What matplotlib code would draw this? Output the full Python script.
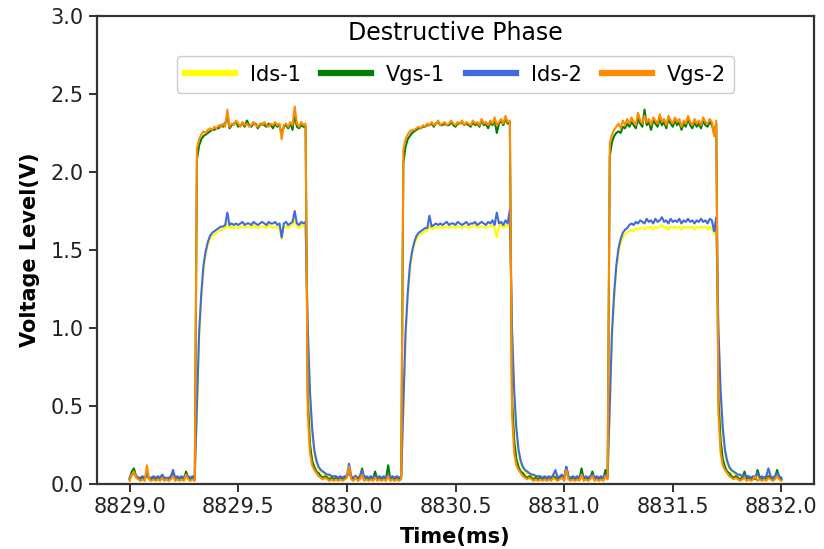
import numpy as np
import matplotlib
matplotlib.use("Agg")
import matplotlib.pyplot as plt
from matplotlib.lines import Line2D
from matplotlib.ticker import MultipleLocator, FormatStrFormatter

# ---- data (0.01 ms sampling from 8829.00 to 8832.00) ----
time_ms = np.round(np.linspace(8829.0, 8832.0, 301), 2)

ids_1 = [
    # baseline 8829.00-8829.30
    0.03,0.05,0.06,0.04,0.03,0.03,0.04,0.03,0.05,0.03,0.03,0.04,0.03,0.04,0.03,0.05,
    0.03,0.03,0.03,0.04,0.07,0.03,0.04,0.03,0.04,0.03,0.05,0.04,0.03,0.04,0.03,
    # pulse 1
    0.45,0.92,1.18,1.37,1.47,1.53,1.57,1.59,1.60,1.61, 1.62,1.63,1.63,1.64,1.68,1.64,1.65,1.64,1.65,1.64,
    1.65,1.65,1.64,1.65,1.65,1.64,1.66,1.65,1.64,1.65, 1.65,1.65,1.64,1.66,1.65,1.64,1.65,1.64,1.65,1.57,
    1.65,1.65,1.64,1.65,1.66,1.70,1.65,1.64,1.66,1.65, 1.66,
    # low 1
    0.95,0.56,0.33,0.20,0.13,0.10,0.08,0.07,0.06,0.05, 0.05,0.04,0.04,0.04,0.03,0.04,0.03,0.04,0.04,0.08,
    0.04,0.03,0.06,0.03,0.04,0.06,0.03,0.04,0.03,0.04, 0.03,0.04,0.03,0.04,0.03,0.04,0.03,0.05,0.03,0.04,
    0.03,0.04,0.03,0.04,
    # pulse 2
    0.45,0.92,1.18,1.37,1.47,1.53,1.57,1.59,1.60,1.61, 1.62,1.62,1.66,1.63,1.64,1.65,1.64,1.65,1.64,1.65,
    1.65,1.64,1.65,1.65,1.64,1.65,1.65,1.64,1.65,1.65, 1.64,1.65,1.65,1.66,1.64,1.65,1.65,1.65,1.64,1.65,
    1.65,1.66,1.64,1.58,1.65,1.66,1.64,1.66,1.65,1.67,
    # low 2
    0.95,0.56,0.33,0.20,0.13,0.10,0.08,0.07,0.06,0.05, 0.05,0.04,0.04,0.04,0.03,0.04,0.03,0.04,0.03,0.05,
    0.07,0.03,0.04,0.05,0.03,0.08,0.04,0.03,0.04,0.03, 0.04,0.03,0.05,0.03,0.04,0.03,0.04,0.05,0.03,0.04,
    0.03,0.04,0.03,0.05,0.04,
    # pulse 3
    0.45,0.92,1.18,1.37,1.48,1.54,1.58,1.60,1.61,1.62, 1.63,1.62,1.64,1.63,1.64,1.64,1.63,1.65,1.64,1.65,
    1.63,1.65,1.64,1.65,1.66,1.64,1.65,1.63,1.65,1.64, 1.65,1.64,1.65,1.63,1.65,1.64,1.65,1.64,1.65,1.63,
    1.65,1.64,1.65,1.64,1.65,1.63,1.65,1.64,1.60,1.66,
    # low 3
    0.95,0.56,0.33,0.20,0.13,0.10,0.08,0.07,0.06,0.05, 0.05,0.04,0.05,0.04,0.04,0.03,0.04,0.04,0.06,0.03,
    0.04,0.03,0.04,0.07,0.04,0.03,0.04,0.06,0.04,0.03,
]

vgs_1 = [
    0.03,0.08,0.10,0.05,0.04,0.03,0.04,0.03,0.07,0.03,0.03,0.04,0.03,0.04,0.03,0.05,
    0.03,0.03,0.03,0.04,0.06,0.03,0.04,0.03,0.04,0.03,0.08,0.04,0.03,0.04,0.03,
    2.08,2.17,2.21,2.23,2.24,2.25,2.26,2.27,2.27,2.28, 2.28,2.30,2.29,2.31,2.36,2.28,2.30,2.31,2.32,2.29,
    2.30,2.31,2.29,2.33,2.30,2.29,2.31,2.31,2.28,2.30, 2.31,2.30,2.29,2.31,2.30,2.28,2.31,2.29,2.30,2.24,
    2.29,2.30,2.28,2.31,2.27,2.37,2.29,2.28,2.30,2.29, 2.29,
    0.55,0.26,0.15,0.11,0.08,0.07,0.05,0.04,0.05,0.04, 0.03,0.04,0.03,0.04,0.03,0.04,0.03,0.04,0.05,0.08,
    0.04,0.03,0.05,0.03,0.04,0.10,0.03,0.04,0.03,0.04, 0.03,0.08,0.03,0.04,0.03,0.04,0.03,0.12,0.03,0.04,
    0.03,0.04,0.03,0.04,
    2.06,2.16,2.21,2.23,2.25,2.26,2.27,2.28,2.28,2.29, 2.29,2.30,2.30,2.31,2.29,2.31,2.32,2.30,2.30,2.31,
    2.30,2.30,2.32,2.30,2.29,2.31,2.31,2.32,2.30,2.31, 2.30,2.29,2.32,2.30,2.31,2.29,2.33,2.30,2.31,2.28,
    2.32,2.30,2.33,2.25,2.31,2.33,2.30,2.34,2.31,2.32,
    0.55,0.28,0.16,0.11,0.08,0.07,0.05,0.04,0.05,0.04, 0.03,0.04,0.03,0.04,0.03,0.04,0.03,0.04,0.03,0.05,
    0.04,0.03,0.04,0.05,0.03,0.11,0.04,0.03,0.04,0.03, 0.04,0.03,0.10,0.03,0.04,0.03,0.04,0.08,0.03,0.04,
    0.03,0.04,0.03,0.09,0.04,
    2.10,2.19,2.23,2.25,2.26,2.25,2.29,2.28,2.31,2.29, 2.32,2.30,2.28,2.34,2.31,2.29,2.40,2.30,2.32,2.27,
    2.33,2.31,2.29,2.34,2.30,2.32,2.28,2.34,2.31,2.29, 2.33,2.30,2.32,2.27,2.31,2.29,2.34,2.30,2.28,2.32,
    2.29,2.31,2.28,2.33,2.30,2.29,2.32,2.30,2.25,2.31,
    0.55,0.28,0.16,0.11,0.08,0.07,0.05,0.04,0.05,0.04, 0.03,0.04,0.08,0.03,0.04,0.03,0.04,0.03,0.09,0.04,
    0.03,0.04,0.03,0.05,0.04,0.03,0.04,0.09,0.04,0.03,
]

ids_2 = [
    0.04,0.06,0.07,0.05,0.04,0.04,0.05,0.04,0.06,0.04,0.04,0.05,0.04,0.05,0.04,0.06,
    0.04,0.04,0.04,0.05,0.09,0.04,0.05,0.04,0.05,0.04,0.06,0.05,0.04,0.05,0.04,
    0.50,0.97,1.22,1.40,1.49,1.55,1.59,1.61,1.62,1.63, 1.64,1.65,1.65,1.66,1.74,1.66,1.67,1.66,1.67,1.66,
    1.67,1.68,1.66,1.67,1.67,1.66,1.68,1.67,1.66,1.67, 1.68,1.67,1.66,1.68,1.67,1.67,1.68,1.66,1.67,1.58,
    1.67,1.68,1.66,1.67,1.68,1.75,1.67,1.66,1.68,1.67, 1.68,
    1.00,0.60,0.36,0.22,0.15,0.11,0.09,0.08,0.07,0.06, 0.06,0.05,0.05,0.05,0.04,0.05,0.04,0.05,0.05,0.13,
    0.05,0.04,0.05,0.04,0.05,0.09,0.04,0.05,0.04,0.05, 0.04,0.05,0.04,0.05,0.04,0.05,0.04,0.06,0.04,0.05,
    0.04,0.05,0.04,0.05,
    0.50,0.97,1.22,1.40,1.49,1.55,1.59,1.61,1.62,1.63, 1.64,1.64,1.72,1.65,1.66,1.67,1.66,1.67,1.66,1.67,
    1.68,1.66,1.67,1.67,1.66,1.68,1.67,1.66,1.67,1.68, 1.66,1.67,1.67,1.68,1.66,1.67,1.68,1.67,1.66,1.68,
    1.67,1.69,1.66,1.74,1.67,1.68,1.66,1.69,1.67,1.76,
    1.00,0.60,0.36,0.22,0.15,0.11,0.09,0.08,0.07,0.06, 0.06,0.05,0.05,0.05,0.04,0.05,0.04,0.05,0.04,0.06,
    0.09,0.04,0.05,0.06,0.04,0.11,0.05,0.04,0.05,0.04, 0.05,0.04,0.06,0.04,0.05,0.04,0.05,0.06,0.04,0.05,
    0.04,0.05,0.04,0.06,0.05,
    0.50,0.97,1.22,1.40,1.51,1.57,1.61,1.63,1.64,1.66, 1.67,1.66,1.68,1.67,1.69,1.68,1.67,1.70,1.68,1.69,
    1.67,1.70,1.68,1.69,1.71,1.68,1.69,1.67,1.70,1.68, 1.69,1.68,1.70,1.67,1.69,1.68,1.70,1.68,1.69,1.67,
    1.69,1.68,1.70,1.68,1.69,1.67,1.70,1.69,1.62,1.71,
    1.00,0.60,0.36,0.22,0.15,0.11,0.09,0.08,0.07,0.06, 0.06,0.05,0.06,0.05,0.05,0.04,0.05,0.05,0.07,0.04,
    0.05,0.04,0.05,0.10,0.05,0.04,0.05,0.07,0.05,0.04,
]

vgs_2 = [
    0.02,0.06,0.08,0.04,0.03,0.02,0.03,0.02,0.12,0.03,0.02,0.03,0.02,0.03,0.02,0.04,
    0.02,0.03,0.02,0.03,0.05,0.02,0.03,0.02,0.03,0.02,0.06,0.03,0.02,0.03,0.02,
    2.15,2.21,2.24,2.26,2.25,2.27,2.28,2.27,2.29,2.28, 2.30,2.29,2.31,2.29,2.40,2.29,2.31,2.30,2.33,2.31,
    2.29,2.32,2.30,2.31,2.29,2.30,2.32,2.30,2.29,2.31, 2.30,2.32,2.30,2.29,2.31,2.30,2.32,2.30,2.31,2.21,
    2.30,2.31,2.29,2.32,2.30,2.42,2.31,2.29,2.32,2.30, 2.31,
    0.45,0.20,0.12,0.09,0.07,0.05,0.04,0.03,0.04,0.03, 0.02,0.03,0.02,0.03,0.02,0.03,0.02,0.03,0.04,0.11,
    0.03,0.02,0.04,0.02,0.03,0.06,0.02,0.03,0.02,0.03, 0.02,0.04,0.02,0.03,0.02,0.03,0.02,0.05,0.02,0.03,
    0.02,0.03,0.02,0.03,
    2.14,2.21,2.24,2.26,2.27,2.27,2.28,2.29,2.28,2.30, 2.29,2.31,2.30,2.32,2.30,2.31,2.33,2.30,2.31,2.32,
    2.30,2.31,2.33,2.31,2.30,2.32,2.31,2.33,2.30,2.32, 2.31,2.30,2.33,2.31,2.32,2.30,2.34,2.31,2.32,2.30,
    2.33,2.31,2.35,2.30,2.32,2.34,2.31,2.36,2.32,2.33,
    0.45,0.20,0.12,0.09,0.07,0.05,0.04,0.03,0.04,0.03, 0.02,0.03,0.02,0.03,0.02,0.03,0.02,0.03,0.02,0.04,
    0.03,0.02,0.03,0.04,0.02,0.09,0.03,0.02,0.03,0.02, 0.03,0.02,0.06,0.02,0.03,0.02,0.03,0.05,0.02,0.03,
    0.02,0.03,0.02,0.05,0.03,
    2.18,2.24,2.27,2.29,2.31,2.28,2.33,2.30,2.34,2.31, 2.35,2.32,2.30,2.38,2.33,2.31,2.36,2.32,2.34,2.30,
    2.35,2.33,2.31,2.37,2.32,2.34,2.30,2.36,2.33,2.31, 2.35,2.32,2.34,2.29,2.33,2.31,2.36,2.32,2.30,2.34,
    2.31,2.33,2.30,2.35,2.32,2.31,2.34,2.32,2.23,2.33,
    0.45,0.20,0.12,0.09,0.07,0.05,0.04,0.03,0.04,0.03, 0.02,0.03,0.04,0.02,0.03,0.02,0.03,0.05,0.02,0.03,
    0.02,0.03,0.02,0.04,0.03,0.02,0.03,0.05,0.03,0.02,
]

series_names = ["Ids-1", "Vgs-1", "Ids-2", "Vgs-2"]
series_colors = ["#ffff00", "#008000", "#4169e1", "#ff8c00"]
x_ticks = [8829.0, 8829.5, 8830.0, 8830.5, 8831.0, 8831.5, 8832.0]
y_ticks = [0.0, 0.5, 1.0, 1.5, 2.0, 2.5, 3.0]

for s in (ids_1, vgs_1, ids_2, vgs_2):
    assert len(s) == len(time_ms), len(s)

# ---- figure ----
plt.rcParams["font.family"] = ["DejaVu Sans"]
fig = plt.figure(figsize=(8.24, 5.49), dpi=100)
ax = fig.add_axes([0.1177, 0.1184, 0.8702, 0.8525])

for vals, name, col in zip((ids_1, vgs_1, ids_2, vgs_2), series_names, series_colors):
    ax.plot(time_ms, vals, color=col, lw=1.5, label=name)

ax.set_ylim(0, 3.0)
ax.set_xlim(8828.85, 8832.15)
ax.set_xticks(x_ticks)
ax.set_yticks(y_ticks)
ax.xaxis.set_major_formatter(FormatStrFormatter("%.1f"))
ax.yaxis.set_major_formatter(FormatStrFormatter("%.1f"))
ax.tick_params(labelsize=15, length=6, width=1.3, colors="#222222")
for sp in ax.spines.values():
    sp.set_linewidth(1.6)
    sp.set_color("#333333")

ax.set_xlabel("Time(ms)", fontsize=15, fontweight="bold", labelpad=7)
ax.set_ylabel("Voltage Level(V)", fontsize=15, fontweight="bold", labelpad=8)

handles = [Line2D([], [], color=c, lw=4.5) for c in series_colors]
ax.legend(handles, series_names, loc="upper center", bbox_to_anchor=(0.5, 0.914),
          borderaxespad=0, ncol=4, fontsize=15, handlelength=2.4,
          handletextpad=0.7, columnspacing=1.0, framealpha=1.0)
ax.text(0.5, 0.963, "Destructive Phase", transform=ax.transAxes,
        ha="center", va="center", fontsize=17)

fig.savefig("out.png", dpi=100)
